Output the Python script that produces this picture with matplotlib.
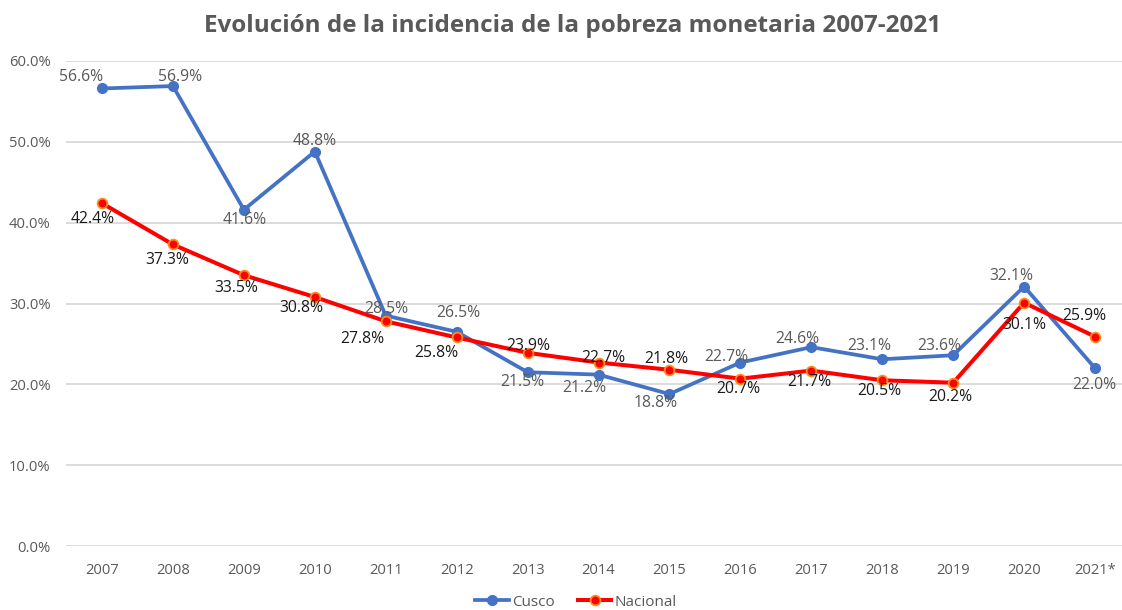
import numpy as np
import matplotlib
matplotlib.use("Agg")
import matplotlib.pyplot as plt

plt.rcParams['font.family'] = ['Open Sans', 'DejaVu Sans']

# ----------------------------- data ------------------------------------
years = ["2007", "2008", "2009", "2010", "2011", "2012", "2013", "2014",
         "2015", "2016", "2017", "2018", "2019", "2020", "2021*"]
cusco = [56.6, 56.9, 41.6, 48.8, 28.5, 26.5, 21.5, 21.2, 18.8, 22.7, 24.6, 23.1, 23.6, 32.1, 22.0]
nacional = [42.4, 37.3, 33.5, 30.8, 27.8, 25.8, 23.9, 22.7, 21.8, 20.7, 21.7, 20.5, 20.2, 30.1, 25.9]

# label offsets in pixels (dx, dy up)
off_cusco = [(-21, 11), (7, 9), (1, -10), (0, 11), (1, 7), (2, 19), (-5, -10), (-14, -13),
             (-14, -9), (-14, 6), (-14, 8), (-13, 13), (-14, 9), (-13, 11), (-1, -17)]
off_nac = [(-9, -16), (-6, -16), (-8, -13), (-14, -11), (-23, -18), (-20, -16), (1, 7), (5, 5),
           (-3, 11), (-2, -10), (-2, -11), (-3, -11), (-3, -14), (0, -22), (-11, 21)]

blue = "#4472C4"
red = "#FF0000"
grey = "#595959"

fig = plt.figure(figsize=(11.22, 6.10), dpi=100)
ax = fig.add_axes([66/1122, 1-546/610, 1-66/1122, (546-61)/610])

x = np.arange(len(years))
ax.plot(x, cusco, color=blue, lw=2.7, marker='o', ms=7, mfc=blue, mec=blue,
        label="Cusco", zorder=3)
ax.plot(x, nacional, color=red, lw=2.9, marker='o', ms=7, mfc=red, mec="#FF8C1A",
        mew=1.3, label="Nacional", zorder=4)

for i in range(len(years)):
    ax.annotate("%.1f%%" % cusco[i], (x[i], cusco[i]), xytext=off_cusco[i],
                textcoords='offset pixels', ha='center', va='center',
                fontsize=11.3, color=grey, zorder=5)
    ax.annotate("%.1f%%" % nacional[i], (x[i], nacional[i]), xytext=off_nac[i],
                textcoords='offset pixels', ha='center', va='center',
                fontsize=11.3, color="#1a1a1a", zorder=5)

ax.set_xlim(-0.508, 14.38)
ax.set_ylim(0, 60)
ax.set_yticks(np.arange(0, 61, 10))
ax.set_yticklabels(["%.1f%%" % v for v in np.arange(0, 61, 10)])
ax.set_xticks(x)
ax.set_xticklabels(years)
ax.tick_params(axis='both', length=0, labelsize=10.6, labelcolor=grey)
ax.tick_params(axis='x', pad=12)
ax.tick_params(axis='y', pad=11)
ax.grid(axis='y', color="#D9D9D9", lw=1.3)
ax.set_axisbelow(True)
for s in ax.spines.values():
    s.set_visible(False)

fig.text(573/1122, 1-26/610, "Evolución de la incidencia de la pobreza monetaria 2007-2021",
         ha='center', va='center', fontsize=17.5, fontweight='bold', color=grey)

fig.legend(loc='center', bbox_to_anchor=(576/1122, 1-602/610), ncol=2, frameon=False,
           fontsize=11, labelcolor=grey, handlelength=2.2, handletextpad=0.2,
           columnspacing=1.5)

fig.savefig("out.png", dpi=100)
